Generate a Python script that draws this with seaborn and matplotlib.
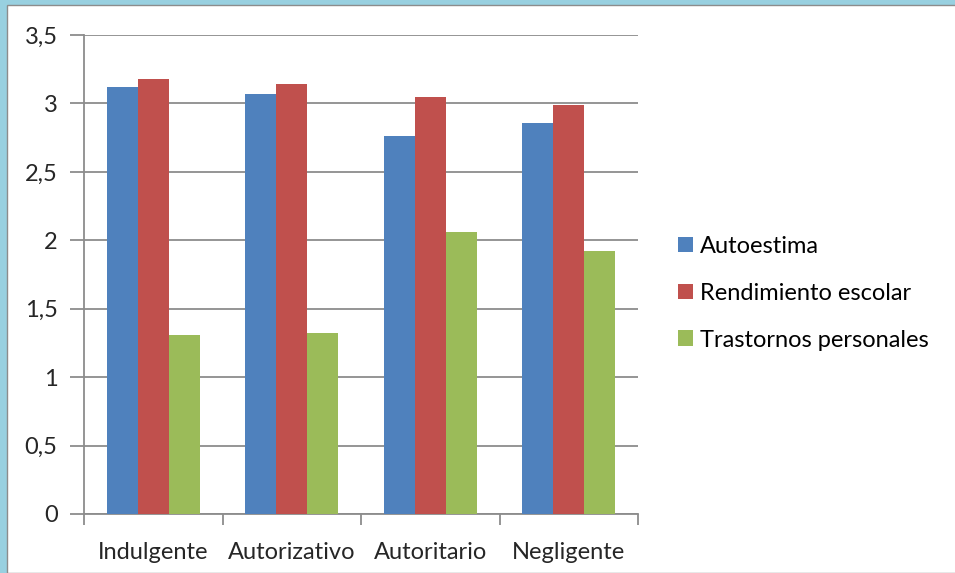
import matplotlib
matplotlib.use("Agg")
import matplotlib.pyplot as plt
from matplotlib.patches import Rectangle
import pandas as pd
import seaborn as sns

categorias = ["Indulgente", "Autorizativo", "Autoritario", "Negligente"]
series = ["Autoestima", "Rendimiento escolar", "Trastornos personales"]
autoestima = [3.12, 3.07, 2.76, 2.86]
rendimiento = [3.18, 3.14, 3.05, 2.99]
trastornos = [1.31, 1.32, 2.06, 1.92]
yticks = [0, 0.5, 1, 1.5, 2, 2.5, 3, 3.5]
ytick_labels = ["0", "0,5", "1", "1,5", "2", "2,5", "3", "3,5"]

colores = ["#4F81BD", "#C0504D", "#9BBB59"]

df = pd.DataFrame({
    "categoria": categorias * 3,
    "serie": [series[0]] * 4 + [series[1]] * 4 + [series[2]] * 4,
    "valor": autoestima + rendimiento + trastornos,
})

sns.set_style("white")
plt.rcParams['font.family'] = ['Lato', 'DejaVu Sans']

fig = plt.figure(figsize=(9.55, 5.73), dpi=100)
fig.patch.set_facecolor("#98D0E0")
# white panel of the document frame (behind the axes)
fig.patches.append(Rectangle((7 / 955, 0), 1, 1 - 5 / 573, transform=fig.transFigure,
                             facecolor="white", edgecolor="#8C8C8C", linewidth=1.0, zorder=-5))

ax = fig.add_axes([84 / 955, 1 - 514 / 573, 554 / 955, 479 / 573])
ax.set_facecolor("none")

sns.barplot(data=df, x="categoria", y="valor", hue="serie", palette=colores,
            width=0.67, saturation=1, ax=ax, zorder=3, edgecolor="none")

ax.set_ylim(0, 3.5)
ax.set_xlim(-0.5, 3.5)
ax.set_yticks(yticks)
ax.set_yticklabels(ytick_labels)
ax.set_xlabel("")
ax.set_ylabel("")

for y in yticks:
    ax.axhline(y, color="#8C8C8C", linewidth=1.3, zorder=1)

for s in ["top", "right"]:
    ax.spines[s].set_visible(False)
ax.spines["left"].set_color("#8C8C8C")
ax.spines["left"].set_linewidth(1.3)
ax.spines["bottom"].set_color("#8C8C8C")
ax.spines["bottom"].set_linewidth(1.3)

ax.tick_params(axis="y", which="major", direction="out", length=10, width=1.3,
               color="#8C8C8C", labelsize=17, pad=9, left=True)
ax.set_xticks([0, 1, 2, 3])
ax.set_xticklabels(categorias)
ax.set_xticks([-0.5, 0.5, 1.5, 2.5, 3.5], minor=True)
ax.tick_params(axis="x", which="major", length=0, labelsize=17, pad=20)
ax.tick_params(axis="x", which="minor", direction="out", length=8, width=1.3,
               color="#8C8C8C", bottom=True)

leg = ax.legend(loc="center left", bbox_to_anchor=(1.033, 0.461), frameon=False,
                fontsize=17, handlelength=0.65, handleheight=0.65, handletextpad=0.3,
                labelspacing=1.1)
for t in leg.get_texts():
    t.set_color("black")

fig.savefig("out.png", dpi=100, facecolor=fig.get_facecolor())
